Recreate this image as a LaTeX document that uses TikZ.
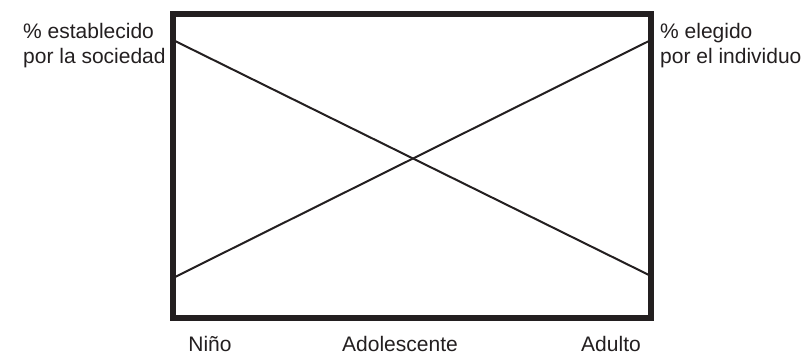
\documentclass[tikz,border=0pt]{standalone}
\usepackage{fontspec}
\setmainfont{Liberation Sans}
\usepackage{tikz}
\usepackage[dvipsnames]{xcolor}
\definecolor{tinta}{RGB}{35,31,32}
\usetikzlibrary{positioning}

\tikzset{
    etiqueta/.style={inner sep=0pt,align=left,text=tinta,font=\fontsize{21}{25}\selectfont},
    eje/.style={inner sep=0pt,text=tinta,font=\fontsize{21}{25}\selectfont,anchor=base}
}

\begin{document}
\begin{tikzpicture}[x=1pt,y=-1pt]
                \useasboundingbox (0,0) rectangle (807,354);
                \coordinate (so) at (173,14);
                \coordinate (se) at (651,14);
                \coordinate (io) at (173,318);
                \coordinate (ie) at (651,318);
                \coordinate (sociedadA) at (173,40);
                \coordinate (sociedadB) at (651,276);
                \coordinate (individuoA) at (173,278);
                \coordinate (individuoB) at (651,40);

                \draw[line width=5.5pt,tinta] (so) -- (se) -- (ie) -- (io) -- cycle;
                \draw[line width=2pt,tinta] (sociedadA) -- (sociedadB);
                \draw[line width=2pt,tinta] (individuoA) -- (individuoB);

                \node[etiqueta,anchor=north west] (sociedad) at (23,23) {\% establecido\\por la sociedad};
                \node[etiqueta,anchor=north west] (individuo) at (660,23) {\% elegido\\por el individuo};

                \node[eje] (nino) at (210,351) {Niño};
                \node[eje] (adolescente) at (400,351) {Adolescente};
                \node[eje] (adulto) at (611,351) {Adulto};
\end{tikzpicture}
\end{document}
